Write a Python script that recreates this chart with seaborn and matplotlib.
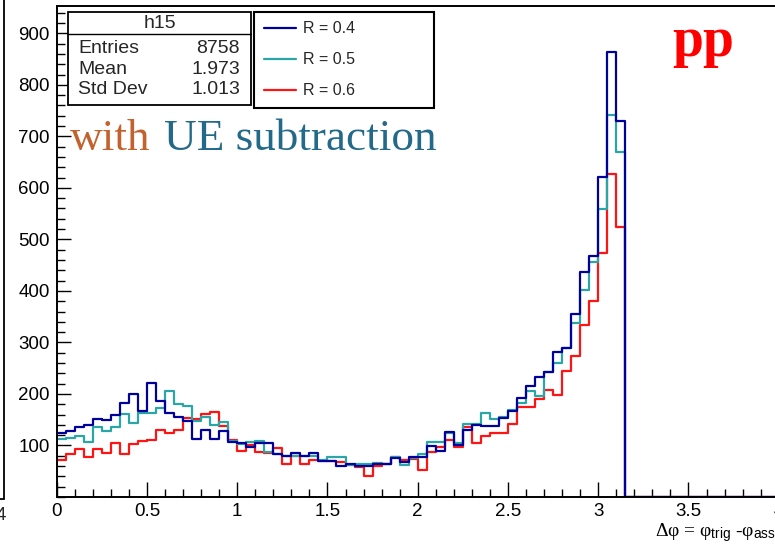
import numpy as np
import pandas as pd
import matplotlib
matplotlib.use("Agg")
import matplotlib.pyplot as plt
import seaborn as sns
from matplotlib.patches import Rectangle
from matplotlib.lines import Line2D
from matplotlib.ticker import MultipleLocator

# ---------------- data ----------------
bin_width = 0.05
x_max = 4.0
r_labels = ["R = 0.4", "R = 0.5", "R = 0.6"]

counts_r04 = [124, 128, 135, 140, 151, 150, 159, 182, 200, 167,
              221, 187, 164, 155, 148, 112, 130, 113, 128, 107,
              104, 98, 104, 104, 84, 80, 86, 80, 85, 70,
              70, 60, 64, 60, 60, 64, 64, 75, 68, 77,
              78, 99, 89, 127, 100, 130, 140, 138, 138, 153,
              166, 192, 216, 232, 243, 282, 289, 355, 436, 467,
              622, 863, 730]
counts_r05 = [113, 114, 118, 107, 135, 128, 135, 162, 143, 164,
              164, 173, 206, 181, 176, 148, 155, 140, 145, 109,
              102, 107, 109, 88, 83, 80, 80, 80, 80, 72,
              77, 77, 63, 65, 65, 66, 64, 78, 62, 75,
              84, 107, 107, 124, 105, 142, 142, 164, 151, 156,
              168, 182, 206, 196, 243, 261, 289, 338, 402, 457,
              559, 742, 670]
counts_r06 = [72, 83, 93, 78, 93, 86, 105, 83, 103, 109,
              111, 131, 124, 131, 153, 151, 161, 165, 138, 110,
              90, 100, 87, 86, 96, 65, 80, 64, 72, 69,
              69, 68, 62, 59, 41, 60, 64, 78, 72, 73,
              52, 88, 98, 111, 98, 135, 104, 118, 124, 124,
              142, 175, 175, 190, 208, 198, 245, 274, 334, 381,
              473, 627, 524]

xtick_values = [0, 0.5, 1, 1.5, 2, 2.5, 3, 3.5, 4]
xtick_labels = ["0", "0.5", "1", "1.5", "2", "2.5", "3", "3.5", "4"]
ytick_values = [100, 200, 300, 400, 500, 600, 700, 800, 900]

hist_name = "h15"
stat_names = ["Entries", "Mean", "Std Dev"]
stat_values = ["8758", "1.973", "1.013"]

colors = ["#00009c", "#2aa6a6", "#ff1414"]

# ---------------- style ----------------
sns.set_style("white")
plt.rcParams["font.family"] = ["Liberation Sans", "DejaVu Sans"]
plt.rcParams["mathtext.fontset"] = "custom"
plt.rcParams["mathtext.rm"] = "Liberation Serif"
plt.rcParams["mathtext.it"] = "Liberation Serif"
plt.rcParams["mathtext.sf"] = "Liberation Sans"

W, H = 775, 551
fig = plt.figure(figsize=(W / 100, H / 100), dpi=100)


def fx(px):
    return px / W


def fy(py):
    return 1 - py / H


ax_l, ax_r, ax_t, ax_b = 56.7, 778.7, 6.0, 497.0
ax = fig.add_axes([fx(ax_l), fy(ax_b), (ax_r - ax_l) / W, (ax_b - ax_t) / H])

edges = [round(e, 4) for e in np.arange(0, x_max + bin_width / 2, bin_width)]
centers = [(a + b) / 2 for a, b in zip(edges[:-1], edges[1:])]
n_bins = len(centers)

rows = []
for label, counts in zip(r_labels, [counts_r04, counts_r05, counts_r06]):
    padded = list(counts) + [0] * (n_bins - len(counts))
    for c, v in zip(centers, padded):
        rows.append({"dphi": c, "count": v, "R": label})
df = pd.DataFrame(rows)

sns.histplot(data=df, x="dphi", weights="count", hue="R", hue_order=r_labels,
             palette=dict(zip(r_labels, colors)), bins=edges, element="step",
             fill=False, linewidth=1.6, legend=False, ax=ax)

ax.set_xlim(0, x_max)
ax.set_ylim(0, 953)
ax.set_xlabel("")
ax.set_ylabel("")
ax.set_xticks(xtick_values)
ax.set_xticklabels(xtick_labels)
ax.xaxis.set_minor_locator(MultipleLocator(0.1))
ax.set_yticks(ytick_values)
ax.yaxis.set_minor_locator(MultipleLocator(20))
ax.tick_params(which="both", direction="in", bottom=True, left=True, top=False,
               right=False, color="black", width=1.0, labelsize=13.5,
               labelcolor="black")
ax.tick_params(axis="x", which="major", length=11, pad=4)
ax.tick_params(axis="x", which="minor", length=5.5)
ax.tick_params(axis="y", which="major", length=10, pad=5)
ax.tick_params(axis="y", which="minor", length=6)
for s in ax.spines.values():
    s.set_visible(True)
    s.set_color("black")
    s.set_linewidth(1.4)

# legend
handles = [Line2D([], [], color=c, lw=1.6) for c in colors]
leg = ax.legend(handles, r_labels, loc="upper left",
                bbox_to_anchor=(fx(254), fy(102.7), (434.3 - 254) / W, (102.7 - 11.7) / H),
                bbox_transform=fig.transFigure, mode="expand", fontsize=11.5,
                handlelength=2.0, handletextpad=0.45, labelspacing=1.0,
                borderpad=0.6, borderaxespad=0, frameon=True, fancybox=False,
                edgecolor="black", framealpha=1)
leg.get_frame().set_linewidth(1.5)

# stats box
bx0, bx1, by0, by1, bsep = 68.3, 250.7, 11.7, 105.0, 34.0
fig.add_artist(Rectangle((fx(bx0), fy(by1)), (bx1 - bx0) / W, (by1 - by0) / H,
                         transform=fig.transFigure, facecolor="white",
                         edgecolor="black", lw=1.3, zorder=5))
fig.add_artist(Line2D([fx(bx0), fx(bx1)], [fy(bsep), fy(bsep)],
                      transform=fig.transFigure, color="black", lw=1.0, zorder=6))
fig.text(fx((bx0 + bx1) / 2), fy(23.3), hist_name, ha="center", va="center",
         fontsize=14, zorder=7)
for i, (n, v) in enumerate(zip(stat_names, stat_values)):
    yy = 48.8 + i * 20.5
    fig.text(fx(78.3), fy(yy), n, ha="left", va="center", fontsize=14, zorder=7)
    fig.text(fx(240), fy(yy), v, ha="right", va="center", fontsize=14, zorder=7)

# annotations
fig.text(fx(70), fy(150), "with", ha="left", va="baseline", fontsize=32.5,
         family="Liberation Serif", color="#c2622e")
fig.text(fx(164), fy(150), "UE subtraction", ha="left", va="baseline",
         fontsize=32.5, family="Liberation Serif", color="#23698a")
fig.text(fx(672), fy(56), "pp", ha="left", va="baseline", fontsize=40,
         family="Liberation Serif", fontweight="bold", color="#ff0000")

# x-axis title (right aligned, partly cut like the reference)
fig.text(fx(790), fy(533),
         r"Δφ = φ$_{\mathsf{trig}}$ -φ$_{\mathsf{assoc}}$",
         ha="right", va="center", fontsize=14, color="black",
         family=["Liberation Serif", "DejaVu Serif"])

# remnants of the neighbouring pad at the left edge
fig.add_artist(Line2D([fx(3.5), fx(3.5)], [fy(0), fy(499)], transform=fig.transFigure,
                      color="black", lw=1.3))
fig.add_artist(Line2D([fx(0), fx(3.5)], [fy(499), fy(499)], transform=fig.transFigure,
                      color="black", lw=1.3))
fig.text(fx(1), fy(516), "4", ha="center", va="center", fontsize=13.5)

fig.savefig("out.png", dpi=100)
